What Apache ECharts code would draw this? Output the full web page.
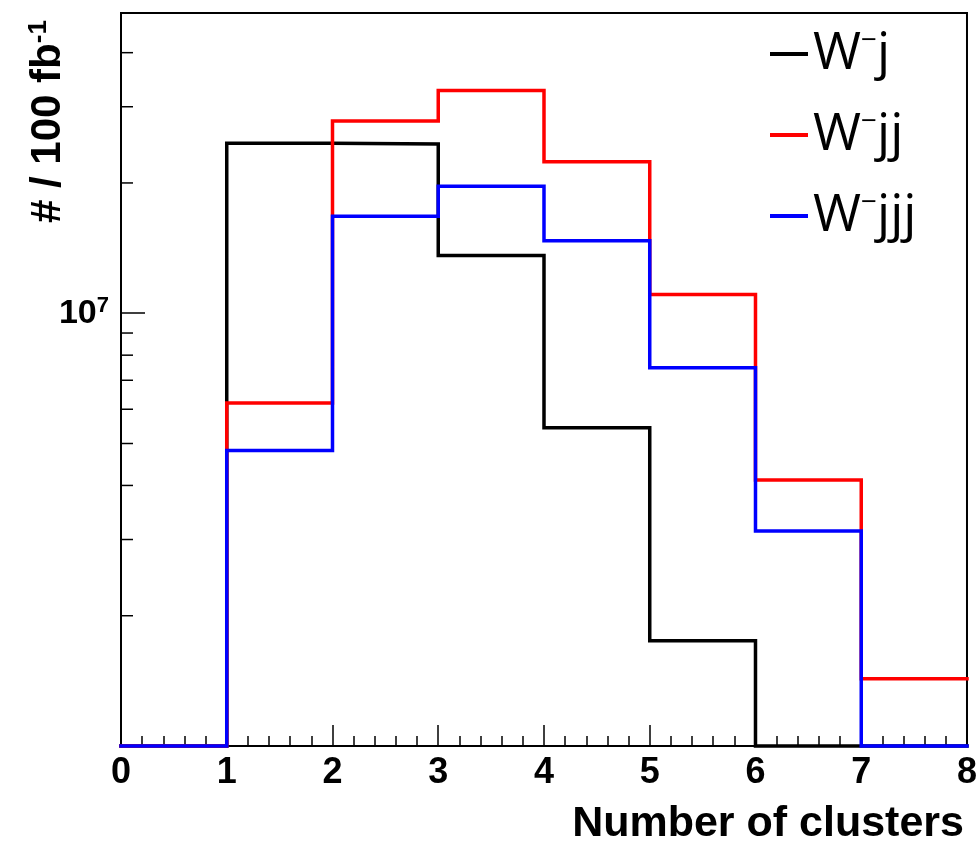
<!DOCTYPE html>
<html>
<head>
<meta charset="utf-8">
<script src="https://cdn.jsdelivr.net/npm/echarts@6/dist/echarts.min.js"></script>
<style>
html,body{margin:0;padding:0;background:#fff;}
#chart{width:980px;height:844px;}
</style>
</head>
<body>
<div id="chart"></div>
<script>
// ---- data (bin contents per 100 fb^-1; bins of "Number of clusters") ----
const binEdges = [0, 1, 2, 3, 4, 5, 6, 7, 8];
const seriesNames = ['W-j', 'W-jj', 'W-jjj'];
const wj   = [0, 2.47e7, 2.46e7, 1.36e7, 5.44e6, 1.75e6, 0, 0];
const wjj  = [0, 6.20e6, 2.78e7, 3.27e7, 2.24e7, 1.105e7, 4.12e6, 1.43e6];
const wjjj = [0, 4.82e6, 1.675e7, 1.965e7, 1.47e7, 7.48e6, 3.14e6, 0];
const seriesColors = ['#000000', '#ff0000', '#0000ff'];
const xTickLabels = ['0', '1', '2', '3', '4', '5', '6', '7', '8'];
const yMin = 1e6, yMax = 4.94e7;
const yMinorTicks = [2e6, 3e6, 4e6, 5e6, 6e6, 7e6, 8e6, 9e6, 2e7, 3e7, 4e7];

const FONT_B = 'Liberation Sans, Arial, Helvetica, sans-serif';
const FONT_L = 'Open Sans, DejaVu Sans, sans-serif';

function stepPoints(vals) {
  const pts = [];
  for (let i = 0; i < vals.length; i++) {
    pts.push([binEdges[i], vals[i] > 0 ? vals[i] : yMin]);
  }
  const last = vals[vals.length - 1];
  pts.push([binEdges[binEdges.length - 1], last > 0 ? last : yMin]);
  return pts;
}

const allVals = [wj, wjj, wjjj];
const histSeries = allVals.map((vals, k) => ({
  name: seriesNames[k],
  type: 'line',
  step: 'end',
  symbol: 'none',
  clip: false,
  data: stepPoints(vals),
  lineStyle: { color: seriesColors[k], width: 3.5, cap: 'square', join: 'miter' },
  itemStyle: { color: seriesColors[k] },
  z: 3 + k,
  animation: false
}));

const chart = echarts.init(document.getElementById('chart'), null, { renderer: 'canvas' });
chart.setOption({
  backgroundColor: '#ffffff',
  animation: false,
  grid: {
    left: 121, right: 10, top: 13, bottom: 98,
    show: true, borderColor: '#000', borderWidth: 2, backgroundColor: 'transparent'
  },
  legend: {
    orient: 'vertical',
    left: 765, top: 22,
    itemWidth: 38, itemHeight: 4, itemGap: 28,
    icon: 'rect',
    data: seriesNames,
    formatter: function (name) {
      const tail = name.split('-')[1];
      return '{w|W}{s|\u2212}{w|' + tail + '}';
    },
    textStyle: {
      rich: {
        w: { fontFamily: FONT_L, fontSize: 52, color: '#000', lineHeight: 54 },
        s: { fontFamily: FONT_L, fontSize: 28, color: '#000', lineHeight: 24, verticalAlign: 'top' }
      }
    }
  },
  xAxis: {
    type: 'value',
    min: 0, max: 8, interval: 1,
    axisLine: { show: true, lineStyle: { color: '#000', width: 2 } },
    axisTick: { show: true, inside: true, length: 21, lineStyle: { color: '#000', width: 1.5 } },
    minorTick: { show: true, splitNumber: 5, length: 10, lineStyle: { color: '#000', width: 1.5 } },
    splitLine: { show: false },
    axisLabel: {
      margin: 9,
      fontFamily: FONT_B, fontWeight: 'bold', fontSize: 36, color: '#000',
      formatter: function (v) { return xTickLabels[Math.round(v)]; }
    }
  },
  yAxis: {
    type: 'log', logBase: 10,
    min: yMin, max: yMax,
    axisLine: { show: true, lineStyle: { color: '#000', width: 2 } },
    axisTick: { show: true, inside: true, length: 24, lineStyle: { color: '#000', width: 1.5 } },
    splitLine: { show: false },
    axisLabel: {
      margin: 12,
      showMinLabel: false, showMaxLabel: false,
      formatter: function (v) {
        return Math.abs(Math.log10(v) - 7) < 1e-6 ? '{b|10}{s|7}' : '';
      },
      rich: {
        b: { fontFamily: FONT_B, fontWeight: 'bold', fontSize: 34, color: '#000', lineHeight: 36 },
        s: { fontFamily: FONT_B, fontWeight: 'bold', fontSize: 22, color: '#000', lineHeight: 22, verticalAlign: 'top' }
      }
    }
  },
  graphic: [
    {
      type: 'text',
      right: 16, top: 803,
      style: {
        text: 'Number of clusters',
        font: 'bold 43px ' + FONT_B,
        fill: '#000'
      }
    },
    {
      type: 'text',
      x: 26, y: 223,
      rotation: Math.PI / 2,
      style: {
        text: '{m|# / 100 fb}{s|-1}',
        rich: {
          m: { fontFamily: FONT_B, fontWeight: 'bold', fontSize: 42, fill: '#000', lineHeight: 44 },
          s: { fontFamily: FONT_B, fontWeight: 'bold', fontSize: 26, fill: '#000', lineHeight: 26, verticalAlign: 'top' }
        },
        fill: '#000'
      }
    }
  ],
  series: histSeries.concat([{
    type: 'custom',
    name: 'yMinorTicks',
    silent: true,
    clip: false,
    z: 2,
    data: yMinorTicks.map(v => [0, v]),
    encode: { x: 0, y: 1 },
    renderItem: function (params, api) {
      const p = api.coord([0, api.value(1)]);
      return {
        type: 'line',
        shape: { x1: p[0], y1: p[1], x2: p[0] + 12, y2: p[1] },
        style: { stroke: '#000', lineWidth: 1.5 }
      };
    }
  }])
});
</script>
</body>
</html>
